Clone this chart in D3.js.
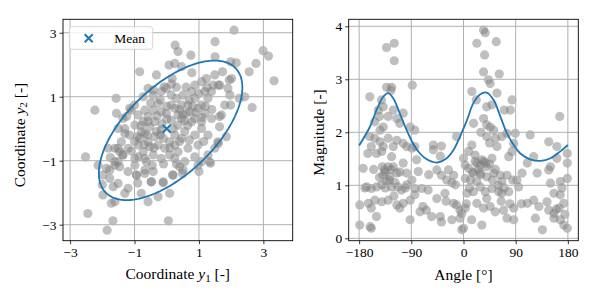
<!DOCTYPE html>
<html>
<head>
<meta charset="utf-8">
<script src="https://cdn.jsdelivr.net/npm/d3@7"></script>
<style>
  html, body { margin: 0; padding: 0; background: #fff; }
  svg { display: block; }
  text { font-family: "Liberation Serif", "DejaVu Serif", serif; fill: #000; }
</style>
</head>
<body>
<svg id="chart" width="598" height="299"></svg>
<script>
// ---------------- Data ----------------
// Left panel: samples (y1, y2)
const y1Values = [2.09,0.26,0.35,1.5,1.5,0.75,0.07,0.46,-0.84,-0.32,0.17,0.78,2.99,3.16,2.77,2.56,1.99,2.16,1.73,1.94,3.33,1.44,1.6,1.9,2.25,2.42,1.98,2.65,-2.23,-1.57,-0.73,-0.58,-0.42,-0.08,-1.56,-1.36,-1.1,-1.51,-1.3,-0.91,-2.52,-1.82,-1.61,-1.46,-1.36,-2.13,-1.87,-1.98,-1.61,-1.51,-1.77,-1.51,-1.66,-1.3,-1.2,-1.98,-1.61,-1.72,-0.79,-0.58,-0.27,-0.48,-0.11,0.09,-0.94,-0.68,-0.42,0.18,0.49,0.4,1.0,1.36,1.08,1.6,1.85,1.64,1.64,-2.45,-1.67,-1.85,0.05,
  0.25,-1.15,-1.0,-1.25,-0.89,-0.73,-0.68,-0.58,-0.42,-0.27,-0.17,-0.37,-0.53,-0.68,-0.84,-0.89,-0.73,-0.89,-0.58,-0.37,-0.27,-0.11,0.09,0.25,0.35,0.14,-0.01,0.25,0.46,0.61,0.3,0.51,0.77,0.87,1.08,1.23,0.87,1.08,1.28,1.18,1.39,0.77,0.56,0.87,1.08,1.28,0.97,0.66,0.35,0.09,-0.17,-0.42,-0.63,-0.99,-0.99,0.56,0.87,1.28,1.49,1.59,1.7,1.8,1.96,2.01,1.65,1.49,-0.17,-0.42,-0.01,0.14,-0.32,-0.17,0.25,0.46,-1.15,-1.41,-1.51,-1.36,-1.2,-1.61,-1.77,-1.46,-1.2,-0.94,-0.68,-0.48,-0.11,0.2,0.51,0.97,1.33,
  0.35,0.46,0.66,0.72,0.97,0.14,-0.58,-0.78,-0.99,-0.53,-0.06,-0.68,0.25,0.87,1.18,1.39,1.08,
  0.0,0.2,0.4,0.55,0.7,0.9,1.0,0.6,0.3,-0.2,-0.5,-0.8,-0.6,-0.4,-0.2,0.1,0.4,0.65,1.2,1.4,-1.0,-1.1,-0.3,0.0,0.5,0.8,1.1,-0.7,-0.1,0.3,-0.45,0.7,1.15,-1.3,-0.15,0.15,1.25,-0.9,-1.75,-2.0];
const y2Values = [3.08,2.61,2.41,2.72,2.25,2.3,1.99,1.94,1.78,1.68,1.57,1.75,2.44,2.27,2.04,1.78,2.09,2.06,1.78,1.52,1.5,1.36,1.36,1.26,0.95,1.0,0.74,0.66,0.58,0.95,1.0,1.26,1.21,1.31,0.48,0.32,0.58,0.01,-0.15,-0.25,-0.88,-0.61,-0.61,-0.72,-0.82,-1.14,-1.24,-1.45,-1.14,-1.03,-1.55,-1.71,-1.81,-2.02,-1.86,-2.07,-2.28,-2.33,-2.02,-2.28,-2.13,-1.66,-1.69,-2.02,-1.45,-1.29,-1.34,-1.45,-1.4,-1.19,-1.34,-1.08,-1.03,-0.46,-0.25,0.06,0.38,-2.65,-2.88,-3.17,-2.88,
  2.04,0.64,0.74,0.38,0.43,0.22,0.58,0.38,0.58,0.79,0.53,0.22,0.06,-0.15,-0.3,-0.51,-0.72,-0.88,-0.41,-0.25,-0.51,-0.3,-0.41,-0.2,0.11,0.27,0.48,0.64,0.74,0.48,0.95,1.05,1.16,1.36,1.47,1.57,0.95,0.74,0.95,0.48,0.32,0.22,-0.09,-0.2,0.01,-0.2,-0.51,-0.61,-0.72,-0.82,-0.93,-0.82,-1.03,-0.93,-1.14,-1.03,-0.88,-0.82,-0.61,-0.41,0.43,0.74,1.05,1.57,1.36,1.68,1.16,1.05,1.26,1.05,-0.09,-0.04,-0.51,-0.3,-0.2,-0.41,-0.61,-0.82,-0.61,-1.03,-1.29,-1.19,-1.34,-1.45,-1.4,-1.66,-1.66,-1.45,-1.29,-1.14,-1.03,
  0.43,0.32,0.74,0.53,0.64,0.74,0.22,-0.09,0.11,-0.56,-0.61,-0.93,-0.93,0.32,1.16,1.16,0.22,
  0.3,0.0,0.6,0.25,0.9,0.5,1.1,1.3,1.3,0.9,0.8,0.1,-0.2,-0.6,-0.2,-0.6,-0.4,0.1,0.7,0.6,-0.4,-0.7,0.4,0.7,0.45,0.7,0.35,-0.5,-1.1,-1.1,-1.15,-0.35,-0.4,0.0,0.15,1.4,1.3,-1.7,-0.9,-1.75];
const meanValue = [0.0, 0.0];
// Confidence ellipse: centre, semi-axes, rotation (degrees)
const ellipseCenter = [0.12, -0.05];
const ellipseAxes = [2.8, 1.37];
const ellipseAngle = [44];

// Right panel: samples (angle, magnitude)
const angleValues = [-132.7,-119.4,-119.4,-132.7,-124,-125,-161.6,-88.3,-141.4,-138.5,-147,-121,-104,-130,-115,-153,-110,-138.5,-144,-92,-84,-162,-153,-144,-130,-159,-138.5,-121,-104,-98,-89,-150,-141,-124,-104,-81,-84,-173,-136,-130,-121,-139,-127,-115,-98,-89,-78,-167,-159,-150,-141,-133,-124,-113,-107,-98,-84,-72,-61,-179,-164,-153,-159,-141,-130,-115,-110,-104,-92,-84,-75,-64,-55,-150,-161,-159,-179,-92,-40,-38,-46,-52,-52,-38,-40,-46,-38,-26,-29,-32,-17,-14,-17,-12,-6,-20,-6,-3,3,-12,0,3,
  34.6,37.5,23,56.5,36.4,34.6,43,61.7,46,14.4,22,57.7,83.7,40,49,70.4,80.8,34.6,17.3,40,46,52,115,89.4,75,14.4,40,55,66,57.7,86.6,8.7,20,31.7,37.5,28.9,23,40,49,78,83.7,8.7,17.3,29,3,12,23,40,52,63.5,75,66,92,101,110,121,127,147,150,161,161,147,179,179,166,6,17,29,37.5,49,60.6,66,78,95,23,34.6,46,54.8,69,86.6,86.6,75,31.7,110,121,130,144,147,156,165,173,156,167,173,179,136,124,150,156,167,179,167,0,14,-3,
  -135,-128,-140,-125,-118,-145,-110,-100,-120,-135,25,35,45,30,20,50,55,60,40,65,70,85,80,10,15,5,100,160,170,175,-60,-70,-30,-20,-165,-155,-170,30,45,-145,-115];
const magnitudeValues = [3.6,3.68,3.35,2.85,2.85,2.79,2.67,2.89,2.61,2.48,2.42,2.42,2.36,2.3,2.26,2.2,2.17,2.1,2.04,2.1,2.04,1.92,1.89,1.82,1.89,1.73,1.73,1.73,1.79,1.73,1.7,1.6,1.64,1.54,1.42,1.48,1.73,1.32,1.29,1.35,1.35,1.19,1.16,1.23,1.23,1.1,1.26,0.97,0.94,0.97,1.01,1.07,0.97,0.97,0.91,1.01,0.94,0.94,0.91,0.63,0.66,0.72,0.57,0.69,0.72,0.63,0.57,0.66,0.72,0.82,0.5,0.53,0.41,0.41,0.22,0.19,0.25,0.35,0.41,0.31,0.75,1.67,1.76,1.74,1.55,1.29,1.19,1.29,1.1,0.85,1.19,1.01,0.66,0.63,0.53,0.35,0.38,0.16,0.57,1.92,1.51,1.38,
  3.93,3.88,3.68,3.71,3.46,3.14,2.99,3.1,2.92,2.77,2.61,2.74,2.61,2.48,2.52,2.42,2.42,2.26,2.17,2.14,2.1,2.04,1.95,1.98,1.98,1.76,1.92,1.89,1.92,1.73,1.79,1.64,1.57,1.48,1.42,1.38,1.42,1.35,1.51,1.54,1.64,1.32,1.23,1.23,1.13,1.1,1.07,1.16,1.23,1.19,1.19,1.07,1.1,1.23,1.42,1.54,1.23,1.29,1.35,1.51,1.73,1.82,1.6,1.42,2.3,0.85,0.88,0.97,0.88,0.94,0.88,0.85,0.88,0.97,0.66,0.57,0.6,0.5,0.53,0.57,0.35,0.38,0.25,0.66,0.72,0.6,0.69,0.53,0.47,0.57,0.66,0.38,0.35,0.25,0.19,0.16,0.38,1.04,0.85,1.07,1.13,0.82,0.19,0.35,0.47,
  1.25,1.1,1.35,1.3,1.05,1.15,1.25,0.95,0.8,0.95,1.3,1.45,1.4,1.2,1.45,1.1,1.3,1.0,0.75,0.7,0.95,1.1,0.65,0.95,1.25,0.65,0.65,0.55,0.95,0.45,1.2,0.6,0.7,1.05,1.6,1.3,0.95,2.0,1.8,2.3,1.85];
// Ellipse radius curve
const curveAngles = [-180,-161.6,-150,-138.5,-130,-121,-110,-98,-87,-75,-63.5,-46,-29,-17,-6,6,17,29,40,52,63.5,75,86.6,98,115,133,150,167,180];
const curveMagnitudes = [1.75,2.1,2.42,2.67,2.74,2.64,2.36,2.04,1.79,1.6,1.49,1.43,1.51,1.67,1.92,2.23,2.55,2.72,2.75,2.61,2.3,1.98,1.76,1.6,1.49,1.46,1.51,1.64,1.76];

// Tick labels
const leftXTicks = [-3, -1, 1, 3];
const leftYTicks = [-3, -1, 1, 3];
const rightXTicks = [-180, -90, 0, 90, 180];
const rightYTicks = [0, 1, 2, 3, 4];

// ---------------- Drawing ----------------
const svg = d3.select("#chart");
const BLUE = "#1f77b4";
const fmt = d => (d < 0 ? "\u2212" + Math.abs(d) : String(d));

function panel(box, xDom, yDom, xTicks, yTicks) {
  const x = d3.scaleLinear().domain(xDom).range([box.l, box.r]);
  const y = d3.scaleLinear().domain(yDom).range([box.b, box.t]);
  const g = svg.append("g");
  const clipId = "clip" + Math.round(box.l);
  svg.append("clipPath").attr("id", clipId).append("rect")
    .attr("x", box.l).attr("y", box.t).attr("width", box.r - box.l).attr("height", box.b - box.t);
  const inner = g.append("g").attr("clip-path", `url(#${clipId})`);
  const pts = inner.append("g");
  const grid = inner.append("g");
  const over = inner.append("g");
  grid.selectAll(".gx").data(xTicks).join("line")
    .attr("x1", d => x(d)).attr("x2", d => x(d)).attr("y1", box.t).attr("y2", box.b)
    .attr("stroke", "#b0b0b0").attr("stroke-width", 1);
  grid.selectAll(".gy").data(yTicks).join("line")
    .attr("y1", d => y(d)).attr("y2", d => y(d)).attr("x1", box.l).attr("x2", box.r)
    .attr("stroke", "#b0b0b0").attr("stroke-width", 1);
  const ax = g.append("g").attr("transform", `translate(0,${box.b})`)
    .call(d3.axisBottom(x).tickValues(xTicks).tickFormat(fmt).tickSize(3.5).tickPadding(3));
  const ay = g.append("g").attr("transform", `translate(${box.l},0)`)
    .call(d3.axisLeft(y).tickValues(yTicks).tickFormat(fmt).tickSize(3.5).tickPadding(3));
  [ax, ay].forEach(a => {
    a.select(".domain").remove();
    a.selectAll("line").attr("stroke", "#000").attr("stroke-width", 0.8);
    a.selectAll("text").attr("font-family", '"Liberation Serif", serif').attr("font-size", 13.5).attr("fill", "#000");
  });
  g.append("rect").attr("x", box.l).attr("y", box.t).attr("width", box.r - box.l).attr("height", box.b - box.t)
    .attr("fill", "none").attr("stroke", "#000").attr("stroke-width", 0.9);
  return { x, y, pts, over, g };
}

const leftBox = { l: 63, r: 292.7, t: 19.3, b: 240.7 };
const rightBox = { l: 348.7, r: 578.3, t: 19.3, b: 240.7 };

const L = panel(leftBox, [-3.22, 3.91], [-3.5, 3.42], leftXTicks, leftYTicks);
L.pts.selectAll("circle").data(y1Values.map((v, i) => [v, y2Values[i]])).join("circle")
  .attr("cx", d => L.x(d[0])).attr("cy", d => L.y(d[1])).attr("r", 4.6)
  .attr("fill", "#808080").attr("fill-opacity", 0.5);
const th = ellipseAngle[0] * Math.PI / 180;
const ePts = d3.range(0, 361, 2).map(t => {
  const a = t * Math.PI / 180;
  const ex = ellipseAxes[0] * Math.cos(a), ey = ellipseAxes[1] * Math.sin(a);
  return [ellipseCenter[0] + ex * Math.cos(th) - ey * Math.sin(th),
          ellipseCenter[1] + ex * Math.sin(th) + ey * Math.cos(th)];
});
L.over.append("path").datum(ePts)
  .attr("d", d3.line().x(d => L.x(d[0])).y(d => L.y(d[1])))
  .attr("fill", "none").attr("stroke", BLUE).attr("stroke-width", 1.8);
function xMark(sel, cx, cy, s) {
  sel.append("path").attr("d", `M${cx - s},${cy - s}L${cx + s},${cy + s}M${cx - s},${cy + s}L${cx + s},${cy - s}`)
    .attr("stroke", BLUE).attr("stroke-width", 2).attr("fill", "none");
}
xMark(L.over, L.x(meanValue[0]), L.y(meanValue[1]), 4.1);

const lg = L.g.append("g");
lg.append("rect").attr("x", 69.3).attr("y", 26.7).attr("width", 83.4).attr("height", 22.6).attr("rx", 2.5)
  .attr("fill", "#fff").attr("fill-opacity", 0.8).attr("stroke", "#cccccc").attr("stroke-width", 0.8);
xMark(lg, 88.7, 38.2, 4.0);
lg.append("text").attr("x", 114.3).attr("y", 42.6).attr("font-size", 13.5).text("Mean");

const xl = L.g.append("text").attr("x", 177.8).attr("y", 279.3).attr("text-anchor", "middle").attr("font-size", 15.5);
xl.append("tspan").text("Coordinate ");
xl.append("tspan").attr("font-style", "italic").text("y");
xl.append("tspan").attr("font-size", 11).attr("dy", 2.5).text("1");
xl.append("tspan").attr("dy", -2.5).text(" [-]");
const yl = L.g.append("text").attr("transform", "translate(24.5,135) rotate(-90)").attr("text-anchor", "middle").attr("font-size", 15.5);
yl.append("tspan").text("Coordinate ");
yl.append("tspan").attr("font-style", "italic").text("y");
yl.append("tspan").attr("font-size", 11).attr("dy", 2.5).text("2");
yl.append("tspan").attr("dy", -2.5).text(" [-]");

const R = panel(rightBox, [-198, 198], [-0.045, 4.132], rightXTicks, rightYTicks);
R.pts.selectAll("circle").data(angleValues.map((v, i) => [v, magnitudeValues[i]])).join("circle")
  .attr("cx", d => R.x(d[0])).attr("cy", d => R.y(d[1])).attr("r", 4.6)
  .attr("fill", "#808080").attr("fill-opacity", 0.5);
R.over.append("path").datum(curveAngles.map((v, i) => [v, curveMagnitudes[i]]))
  .attr("d", d3.line().x(d => R.x(d[0])).y(d => R.y(d[1])).curve(d3.curveCatmullRom))
  .attr("fill", "none").attr("stroke", BLUE).attr("stroke-width", 1.8);
R.g.append("text").attr("x", 463.5).attr("y", 280).attr("text-anchor", "middle").attr("font-size", 15.5).text("Angle [°]");
R.g.append("text").attr("transform", "translate(324,132.5) rotate(-90)").attr("text-anchor", "middle").attr("font-size", 15.5).text("Magnitude [-]");
</script>
</body>
</html>
